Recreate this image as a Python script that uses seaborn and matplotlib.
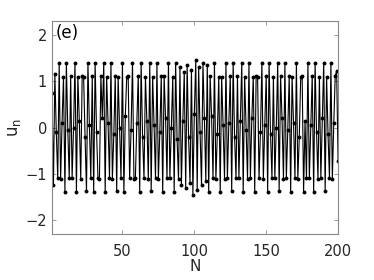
import matplotlib
matplotlib.use('Agg')
import matplotlib.pyplot as plt
import seaborn as sns

# valores (N = 1..200)
u_vals = [
    0.75, -1.25, 1.15, -0.10, -1.10, 1.40, -1.12, 0.10, 1.10, -1.40,
    1.40, -0.05, -1.10, 1.12, -1.10, 0.00, 1.40, -1.40, 1.10, 0.15,
    -1.12, 1.12, 1.10, -0.20, -1.38, 1.40, 0.05, -1.10, 1.12, -1.40,
    1.40, -0.10, -1.10, -1.12, 1.12, 0.20, 1.40, -1.40, 1.10, 0.10,
    -1.10, 1.40, -1.12, -0.15, 1.12, -1.38, 1.10, 0.00, -1.10, 1.40,
    -1.40, 0.25, 1.10, 1.12, -1.10, -0.05, 1.40, -1.12, -1.10, 0.10,
    1.12, -1.40, 1.40, -0.20, -1.10, 1.10, 0.15, -1.12, 1.40, -1.38,
    1.10, 0.05, -1.10, 1.40, -1.12, -0.10, 1.12, -1.40, 1.12, 0.20,
    -1.10, 1.40, -1.10, 0.00, 1.10, -1.40, 1.40, -0.25, -1.12, 1.30,
    -1.25, 0.15, 1.20, -1.30, 1.35, -0.20, -1.20, 1.25, -1.45, 0.30,
    1.45, -1.35, 1.30, -0.10, -1.25, 1.40, 0.20, -1.15, 1.35, -1.40,
    1.12, 0.25, -1.10, 1.40, -1.12, -0.15, 1.10, -1.40, 1.10, 0.05,
    -1.12, 1.40, -1.10, 0.10, 1.12, -1.38, 1.40, -0.20, -1.10, 1.12,
    -1.10, 0.15, 1.40, -1.40, 1.10, -0.05, -1.12, 1.40, -1.10, 0.20,
    1.10, -1.40, 1.12, 1.10, -1.10, -0.10, 1.40, -1.12, 0.05, 1.12,
    -1.40, 1.40, -0.15, -1.10, 1.10, -1.10, 0.00, 1.40, -1.38, 1.12,
    0.20, -1.12, 1.40, -1.10, -0.05, 1.12, -1.40, 1.10, 0.10, -1.10,
    1.40, -1.12, -0.20, 1.10, 1.12, -1.40, 0.15, -1.10, 1.40, -1.10,
    0.05, 1.12, -1.40, 1.40, -0.10, -1.12, 1.10, -1.10, 0.20, 1.40,
    -1.38, 1.10, -0.15, -1.10, 1.40, -1.12, 0.10, 1.12, 1.22, -0.73,
]
N_vals = list(range(1, len(u_vals) + 1))

x_ticks = [50, 100, 150, 200]
y_ticks = [-2, -1, 0, 1, 2]

sns.set_style('white')
plt.rcParams['font.family'] = ['DejaVu Sans']

fig = plt.figure(figsize=(3.74, 2.8), dpi=100)
ax = fig.add_axes([0.139, 0.164, 0.765, 0.761])

sns.lineplot(x=N_vals, y=u_vals, ax=ax, color='k', linewidth=0.8,
             marker='o', markersize=2.8, markeredgewidth=0)

ax.set_xlim(1, 200)
ax.set_ylim(-2.3, 2.3)
ax.set_xticks(x_ticks)
ax.set_yticks(y_ticks)
ax.tick_params(direction='in', length=3, width=0.6, color='#888888',
               labelsize=10.5, labelcolor='#262626', top=True, right=True,
               bottom=True, left=True)
ax.tick_params(axis='x', pad=7)
for s in ax.spines.values():
    s.set_color('#888888')
    s.set_linewidth(0.8)

ax.set_xlabel('N', fontsize=11, color='#262626', labelpad=0)
ax.set_ylabel(r'$\mathregular{u_n}$', fontsize=12, color='#262626', labelpad=2)
ax.text(0.012, 0.985, '(e)', transform=ax.transAxes, fontsize=12,
        va='top', ha='left', color='k')

fig.savefig('out.png', dpi=100)
